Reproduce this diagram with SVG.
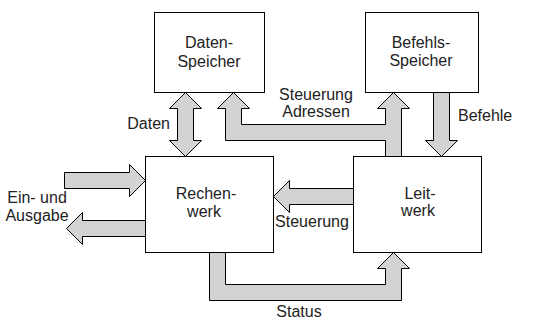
<svg xmlns="http://www.w3.org/2000/svg" width="534" height="332" viewBox="0 0 534 332">
<style>
.a{fill:#d3d3d3;stroke:#000;stroke-width:1}
.b{fill:#fff;stroke:#000;stroke-width:1}
text{font-family:"Liberation Sans",Arial,sans-serif;font-size:16px;fill:#222}
.c{text-anchor:middle}
</style>
<rect width="534" height="332" fill="#fff"/>
<g id="connectors">
<polygon class="a" points="185.5,92.5 201.5,108.5 193.5,108.5 193.5,140.5 201.5,140.5 185.5,156.5 169.5,140.5 177.5,140.5 177.5,108.5 169.5,108.5"/>
<polygon class="a" points="401.5,156.5 401.5,108.5 409.5,108.5 393.5,92.5 377.5,108.5 385.5,108.5 385.5,124.5 241.5,124.5 241.5,108.5 249.5,108.5 233.5,92.5 217.5,108.5 225.5,108.5 225.5,140.5 385.5,140.5 385.5,156.5"/>
<polygon class="a" points="433.5,92.5 449.5,92.5 449.5,140.5 457.5,140.5 441.5,156.5 425.5,140.5 433.5,140.5"/>
<polygon class="a" points="353.5,188.5 289.5,188.5 289.5,180.5 273.5,196.5 289.5,212.5 289.5,204.5 353.5,204.5"/>
<polygon class="a" points="209.5,252.5 209.5,300.5 401.5,300.5 401.5,268.5 409.5,268.5 393.5,252.5 377.5,268.5 385.5,268.5 385.5,284.5 225.5,284.5 225.5,252.5"/>
<polygon class="a" points="64.5,172.5 129.5,172.5 129.5,164.5 145.5,180.5 129.5,196.5 129.5,188.5 64.5,188.5"/>
<polygon class="a" points="145.5,220.5 82.5,220.5 82.5,212.5 66.5,228.5 82.5,244.5 82.5,236.5 145.5,236.5"/>
<text x="170" y="129" text-anchor="end">Daten</text>
<text class="c" x="316" y="100">Steuerung</text>
<text class="c" x="316" y="117">Adressen</text>
<text x="458" y="121">Befehle</text>
<text class="c" x="312" y="227">Steuerung</text>
<text class="c" x="299" y="317">Status</text>
<text class="c" x="37" y="203">Ein- und</text>
<text class="c" x="37" y="221">Ausgabe</text>
</g>
<g id="datenspeicher">
<rect class="b" x="154.5" y="12.5" width="110" height="80"/>
<text class="c" x="209" y="48">Daten-</text>
<text class="c" x="209" y="67">Speicher</text>
</g>
<g id="befehlsspeicher">
<rect class="b" x="365.5" y="12.5" width="113" height="80"/>
<text class="c" x="421" y="48">Befehls-</text>
<text class="c" x="421" y="66">Speicher</text>
</g>
<g id="rechenwerk">
<rect class="b" x="145.5" y="156.5" width="128" height="96"/>
<text class="c" x="206" y="199">Rechen-</text>
<text class="c" x="204" y="217">werk</text>
</g>
<g id="leitwerk">
<rect class="b" x="353.5" y="156.5" width="128" height="96"/>
<text class="c" x="420" y="199">Leit-</text>
<text class="c" x="418" y="216">werk</text>
</g>
</svg>
